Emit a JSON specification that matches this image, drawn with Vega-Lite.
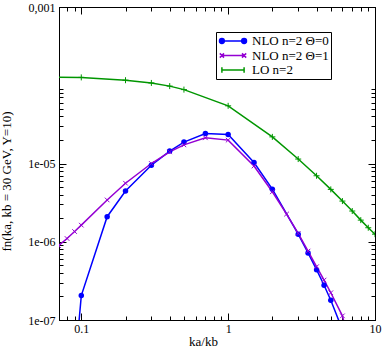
{
  "$schema": "https://vega.github.io/schema/vega-lite/v6.json",
  "width": 316,
  "height": 313,
  "autosize": "none",
  "padding": {"left": 59, "top": 7, "right": 7, "bottom": 29},
  "config": {
    "font": "Liberation Serif",
    "view": {"stroke": "black", "strokeWidth": 1},
    "axis": {"grid": false, "domainColor": "black", "tickColor": "black", "labelColor": "black", "titleColor": "black", "labelFontSize": 12, "titleFontSize": 13, "titleFontWeight": "normal", "labelFlush": false, "labelOverlap": false, "labelBound": false}
  },
  "data": {"values": [
    {"series": "NLO n=2 Θ=0", "x": 0.09, "y": 2.2e-8},
    {"series": "NLO n=2 Θ=0", "x": 0.1, "y": 2.05e-7},
    {"series": "NLO n=2 Θ=0", "x": 0.15, "y": 2.09e-6},
    {"series": "NLO n=2 Θ=0", "x": 0.2, "y": 4.44e-6},
    {"series": "NLO n=2 Θ=0", "x": 0.3, "y": 9.5e-6},
    {"series": "NLO n=2 Θ=0", "x": 0.4, "y": 1.44e-5},
    {"series": "NLO n=2 Θ=0", "x": 0.5, "y": 1.88e-5},
    {"series": "NLO n=2 Θ=0", "x": 0.7, "y": 2.41e-5},
    {"series": "NLO n=2 Θ=0", "x": 1, "y": 2.34e-5},
    {"series": "NLO n=2 Θ=0", "x": 1.5, "y": 1.03e-5},
    {"series": "NLO n=2 Θ=0", "x": 2, "y": 4.7e-6},
    {"series": "NLO n=2 Θ=0", "x": 3, "y": 1.25e-6},
    {"series": "NLO n=2 Θ=0", "x": 3.5, "y": 7.2e-7},
    {"series": "NLO n=2 Θ=0", "x": 4, "y": 4.4e-7},
    {"series": "NLO n=2 Θ=0", "x": 4.5, "y": 2.78e-7},
    {"series": "NLO n=2 Θ=0", "x": 5, "y": 1.79e-7},
    {"series": "NLO n=2 Θ=0", "x": 6, "y": 7.5e-8},
    {"series": "NLO n=2 Θ=1", "x": 0.07, "y": 8.9e-7},
    {"series": "NLO n=2 Θ=1", "x": 0.08, "y": 1.1e-6},
    {"series": "NLO n=2 Θ=1", "x": 0.09, "y": 1.35e-6},
    {"series": "NLO n=2 Θ=1", "x": 0.1, "y": 1.63e-6},
    {"series": "NLO n=2 Θ=1", "x": 0.15, "y": 3.42e-6},
    {"series": "NLO n=2 Θ=1", "x": 0.2, "y": 5.6e-6},
    {"series": "NLO n=2 Θ=1", "x": 0.3, "y": 1.0e-5},
    {"series": "NLO n=2 Θ=1", "x": 0.4, "y": 1.41e-5},
    {"series": "NLO n=2 Θ=1", "x": 0.5, "y": 1.73e-5},
    {"series": "NLO n=2 Θ=1", "x": 0.7, "y": 2.13e-5},
    {"series": "NLO n=2 Θ=1", "x": 1, "y": 1.99e-5},
    {"series": "NLO n=2 Θ=1", "x": 1.5, "y": 9.3e-6},
    {"series": "NLO n=2 Θ=1", "x": 2, "y": 4.35e-6},
    {"series": "NLO n=2 Θ=1", "x": 2.5, "y": 2.26e-6},
    {"series": "NLO n=2 Θ=1", "x": 3, "y": 1.28e-6},
    {"series": "NLO n=2 Θ=1", "x": 3.5, "y": 7.6e-7},
    {"series": "NLO n=2 Θ=1", "x": 4, "y": 4.8e-7},
    {"series": "NLO n=2 Θ=1", "x": 4.5, "y": 3.24e-7},
    {"series": "NLO n=2 Θ=1", "x": 5, "y": 2.23e-7},
    {"series": "NLO n=2 Θ=1", "x": 6, "y": 1.13e-7},
    {"series": "NLO n=2 Θ=1", "x": 7, "y": 3.6e-8},
    {"series": "LO n=2", "x": 0.05, "y": 1.27e-4},
    {"series": "LO n=2", "x": 0.1, "y": 1.26e-4},
    {"series": "LO n=2", "x": 0.2, "y": 1.16e-4},
    {"series": "LO n=2", "x": 0.3, "y": 1.07e-4},
    {"series": "LO n=2", "x": 0.4, "y": 9.75e-5},
    {"series": "LO n=2", "x": 0.5, "y": 8.8e-5},
    {"series": "LO n=2", "x": 1, "y": 5.46e-5},
    {"series": "LO n=2", "x": 2, "y": 2.19e-5},
    {"series": "LO n=2", "x": 3, "y": 1.14e-5},
    {"series": "LO n=2", "x": 4, "y": 6.97e-6},
    {"series": "LO n=2", "x": 5, "y": 4.67e-6},
    {"series": "LO n=2", "x": 6, "y": 3.31e-6},
    {"series": "LO n=2", "x": 7, "y": 2.47e-6},
    {"series": "LO n=2", "x": 8, "y": 1.89e-6},
    {"series": "LO n=2", "x": 9, "y": 1.51e-6},
    {"series": "LO n=2", "x": 10, "y": 1.25e-6}
  ]},
  "resolve": {"axis": {"x": "independent", "y": "independent"}},
  "layer": [
    {
      "mark": {"type": "line", "strokeWidth": 1.5, "clip": true},
      "encoding": {
        "x": {"field": "x", "type": "quantitative", "scale": {"type": "log", "domain": [0.0705, 10], "nice": false},
          "axis": {"orient": "bottom", "values": [0.1, 1, 10], "tickSize": -7, "labelPadding": 10, "labelExpr": "datum.value < 0.5 ? '0.1' : datum.value < 5 ? '1' : '10'", "title": "ka/kb", "titlePadding": 1, "titleX": 144}},
        "y": {"field": "y", "type": "quantitative", "scale": {"type": "log", "domain": [1e-7, 1e-3], "nice": false},
          "axis": {"orient": "left", "values": [1e-7, 1e-6, 1e-5, 1e-3], "tickSize": -7, "labelPadding": 11, "labelExpr": "datum.value > 5e-4 ? '0,001' : datum.value > 5e-6 ? '1e-05' : datum.value > 5e-7 ? '1e-06' : '1e-07'", "title": "fn(ka, kb = 30 GeV, Y=10)", "titlePadding": 14, "titleY": 174}},
        "color": {"field": "series", "type": "nominal",
          "scale": {"domain": ["NLO n=2 Θ=0", "NLO n=2 Θ=1", "LO n=2"], "range": ["#0000ff", "#9400d3", "#009600"]},
          "legend": {
            "title": null, "orient": "none", "legendX": 157, "legendY": 25,
            "strokeColor": "black", "fillColor": "white", "padding": 2, "cornerRadius": 0,
            "labelFontSize": 13, "labelColor": "black", "labelLimit": 300,
            "symbolSize": 144, "symbolOffset": 8, "labelOffset": 12, "rowPadding": 0.5, "symbolStrokeWidth": 1.5,
            "encode": {"symbols": {"update": {
              "shape": {"signal": "datum.value === 'LO n=2' ? 'M-1.85,0L1.85,0M-1.85,-0.45L-1.85,0.45M1.85,-0.45L1.85,0.45' : datum.value === 'NLO n=2 Θ=1' ? 'M-1.85,0L1.85,0M-2.2,-0.35L-1.5,0.35M-2.2,0.35L-1.5,-0.35M1.5,-0.35L2.2,0.35M1.5,0.35L2.2,-0.35' : 'M-1.85,0L1.85,0M-1.45,0A0.4,0.4,0,1,1,-2.25,0A0.4,0.4,0,1,1,-1.45,0ZM2.25,0A0.4,0.4,0,1,1,1.45,0A0.4,0.4,0,1,1,2.25,0Z'"},
              "fill": {"signal": "datum.value === 'NLO n=2 Θ=0' ? '#0000ff' : 'transparent'"},
              "strokeWidth": {"value": 1.5}
            }}}
          }}
      }
    },
    {
      "transform": [{"filter": "datum.series === 'NLO n=2 Θ=0'"}],
      "mark": {"type": "point", "shape": "circle", "filled": true, "size": 30, "color": "#0000ff", "opacity": 1, "clip": true},
      "encoding": {
        "x": {"field": "x", "type": "quantitative", "scale": {"type": "log", "domain": [0.0705, 10], "nice": false},
          "axis": {"orient": "top", "values": [0.1, 1, 10], "tickSize": -7, "labels": false, "title": null}},
        "y": {"field": "y", "type": "quantitative", "scale": {"type": "log", "domain": [1e-7, 1e-3], "nice": false},
          "axis": {"orient": "right", "values": [1e-7, 1e-6, 1e-5], "tickSize": -7, "labels": false, "title": null}}
      }
    },
    {
      "transform": [{"filter": "datum.series === 'NLO n=2 Θ=1'"}],
      "mark": {"type": "point", "shape": "M-1,-1L1,1M-1,1L1,-1", "filled": false, "size": 21, "color": "#9400d3", "strokeWidth": 1, "opacity": 1, "clip": true},
      "encoding": {
        "x": {"field": "x", "type": "quantitative", "scale": {"type": "log", "domain": [0.0705, 10], "nice": false},
          "axis": {"orient": "bottom", "values": [0.08, 0.09, 0.2, 0.3, 0.4, 0.5, 0.6, 0.7, 0.8, 0.9, 2, 3, 4, 5, 6, 7, 8, 9], "tickSize": -4, "labels": false, "title": null}},
        "y": {"field": "y", "type": "quantitative", "scale": {"type": "log", "domain": [1e-7, 1e-3], "nice": false},
          "axis": {"orient": "left", "values": [2e-7, 3e-7, 4e-7, 5e-7, 6e-7, 7e-7, 8e-7, 9e-7, 2e-6, 3e-6, 4e-6, 5e-6, 6e-6, 7e-6, 8e-6, 9e-6, 2e-5, 3e-5, 4e-5, 5e-5, 6e-5, 7e-5, 8e-5, 9e-5], "tickSize": -4, "labels": false, "title": null}}
      }
    },
    {
      "transform": [{"filter": "datum.series === 'LO n=2'"}],
      "mark": {"type": "point", "shape": "M-1,0L1,0M0,-1L0,1", "filled": false, "size": 36, "color": "#009600", "strokeWidth": 1, "opacity": 1, "clip": true},
      "encoding": {
        "x": {"field": "x", "type": "quantitative", "scale": {"type": "log", "domain": [0.0705, 10], "nice": false},
          "axis": {"orient": "top", "values": [0.08, 0.09, 0.2, 0.3, 0.4, 0.5, 0.6, 0.7, 0.8, 0.9, 2, 3, 4, 5, 6, 7, 8, 9], "tickSize": -4, "labels": false, "title": null}},
        "y": {"field": "y", "type": "quantitative", "scale": {"type": "log", "domain": [1e-7, 1e-3], "nice": false},
          "axis": {"orient": "right", "values": [2e-7, 3e-7, 4e-7, 5e-7, 6e-7, 7e-7, 8e-7, 9e-7, 2e-6, 3e-6, 4e-6, 5e-6, 6e-6, 7e-6, 8e-6, 9e-6, 2e-5, 3e-5, 4e-5, 5e-5, 6e-5, 7e-5, 8e-5, 9e-5], "tickSize": -4, "labels": false, "title": null}}
      }
    }
  ]
}
